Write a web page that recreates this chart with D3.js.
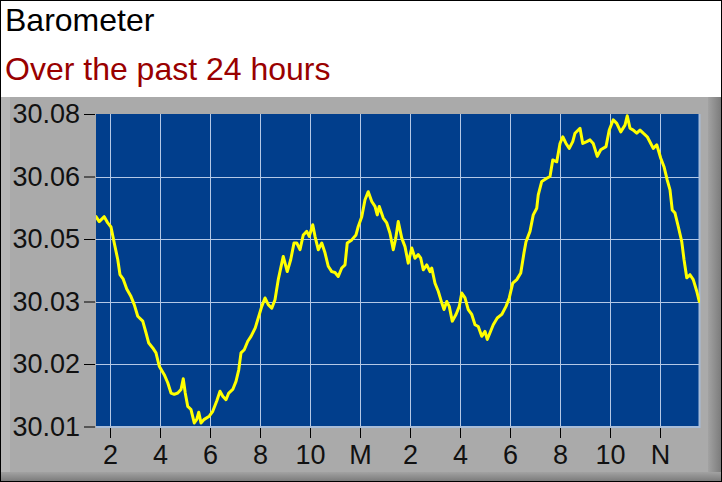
<!DOCTYPE html>
<html><head><meta charset="utf-8">
<script src="https://cdn.jsdelivr.net/npm/d3@7"></script>
<style>body{margin:0;background:#fff}svg{display:block}</style>
</head><body>
<svg id="c" width="722" height="482"></svg>
<script>
// ---- data (hours since midnight of the previous day; 24 = midnight) ----
const hours = [
13.44,13.57,13.77,13.91,14.04,14.17,14.31,14.40,14.53,14.67,14.84,14.97,15.11,15.31,15.44,15.55,15.71,15.84,15.97,16.17,16.31,16.44,16.57,16.71,16.84,16.93,17.01,17.11,17.24,17.37,17.47,17.55,17.64,17.77,17.97,18.11,18.27,18.40,18.51,18.64,18.75,18.91,19.04,19.15,19.24,19.37,19.51,19.64,19.81,
19.93,20.07,20.20,20.33,20.47,20.60,20.73,20.93,21.09,21.23,21.36,21.47,21.60,21.73,21.87,21.97,22.11,22.20,22.33,22.47,22.60,22.73,22.87,23.00,23.13,23.27,23.40,23.49,23.67,23.84,23.93,24.07,24.20,24.33,24.47,24.60,24.69,24.77,24.93,25.07,25.20,25.33,25.43,25.53,25.67,25.80,25.93,26.07,26.20,26.33,
26.43,26.53,26.67,26.80,26.87,27.00,27.13,27.27,27.36,27.47,27.57,27.69,27.84,27.97,28.07,28.20,28.33,28.47,28.60,28.73,28.87,29.00,29.09,29.20,29.33,29.49,29.67,29.84,29.97,30.11,30.27,30.43,30.56,30.64,30.80,30.93,31.07,
31.13,31.27,31.47,31.60,31.71,31.87,32.00,32.11,32.24,32.37,32.51,32.60,32.80,32.91,33.07,33.20,33.33,33.49,33.63,33.84,33.97,34.13,34.27,34.43,34.60,34.69,34.80,34.93,35.07,35.20,35.33,35.49,35.63,35.73,35.87,36.03,36.16,36.29,36.40,36.49,36.60,36.73,36.87,36.96,37.07,37.20,37.33,37.47,37.57
];
const pressure = [
30.0570,30.0559,30.0570,30.0556,30.0547,30.0511,30.0474,30.0440,30.0430,30.0408,30.0391,30.0373,30.0347,30.0336,30.0310,30.0287,30.0276,30.0265,30.0235,30.0216,30.0198,30.0175,30.0172,30.0175,30.0183,30.0207,30.0175,30.0145,30.0138,30.0108,30.0116,30.0132,30.0108,30.0116,30.0123,30.0134,30.0157,30.0179,30.0168,30.0160,30.0175,30.0183,30.0201,30.0227,30.0265,30.0272,30.0291,30.0302,30.0321,
30.0343,30.0369,30.0388,30.0373,30.0365,30.0384,30.0429,30.0481,30.0447,30.0474,30.0511,30.0511,30.0496,30.0529,30.0537,30.0526,30.0552,30.0526,30.0496,30.0511,30.0489,30.0459,30.0447,30.0445,30.0436,30.0455,30.0462,30.0511,30.0518,30.0529,30.0548,30.0570,30.0608,30.0626,30.0604,30.0593,30.0574,30.0593,30.0567,30.0556,30.0533,30.0496,30.0522,30.0559,30.0522,30.0503,30.0466,30.0500,30.0477,30.0485,
30.0477,30.0451,30.0462,30.0447,30.0455,30.0421,30.0403,30.0377,30.0362,30.0380,30.0369,30.0336,30.0351,30.0369,30.0399,30.0388,30.0362,30.0351,30.0328,30.0324,30.0302,30.0313,30.0295,30.0310,30.0328,30.0343,30.0351,30.0369,30.0388,30.0421,30.0429,30.0444,30.0489,30.0514,30.0537,30.0574,30.0589,
30.0619,30.0649,30.0656,30.0660,30.0697,30.0693,30.0734,30.0749,30.0734,30.0723,30.0738,30.0757,30.0768,30.0734,30.0738,30.0742,30.0734,30.0705,30.0720,30.0727,30.0764,30.0787,30.0779,30.0760,30.0775,30.0796,30.0768,30.0764,30.0757,30.0764,30.0757,30.0749,30.0734,30.0723,30.0731,30.0701,30.0682,30.0652,30.0630,30.0585,30.0578,30.0548,30.0514,30.0474,30.0433,30.0440,30.0429,30.0403,30.0380
];
const xTickHours  = [14,16,18,20,22,24,26,28,30,32,34,36];
const xTickLabels = ["2","4","6","8","10","M","2","4","6","8","10","N"];
const yTickValues = [30.01,30.024,30.038,30.052,30.066,30.08];
const yTickLabels = ["30.01","30.02","30.03","30.05","30.06","30.08"];
const xDomain = [13.44, 37.6];
const yDomain = [30.01, 30.08];
const titleText = "Barometer";
const subtitleText = "Over the past 24 hours";

// ---- drawing ----
const W = 722, H = 482;
const FONT = "'Liberation Sans', Arial, sans-serif";
const plot = {l: 96, r: 700, t: 114, b: 426.5};
const svg = d3.select("#c");
const defs = svg.append("defs");

const gr = defs.append("linearGradient").attr("id","gr").attr("x1","0").attr("x2","1").attr("y1","0").attr("y2","0");
gr.append("stop").attr("offset","0").attr("stop-color","#a2a2a2");
gr.append("stop").attr("offset","1").attr("stop-color","#7c7c7c");
const gb = defs.append("linearGradient").attr("id","gb").attr("x1","0").attr("x2","0").attr("y1","0").attr("y2","1");
gb.append("stop").attr("offset","0").attr("stop-color","#a2a2a2");
gb.append("stop").attr("offset","1").attr("stop-color","#7c7c7c");
defs.append("clipPath").attr("id","clip").append("rect")
  .attr("x", plot.l).attr("y", plot.t).attr("width", plot.r - plot.l).attr("height", plot.b - plot.t);

svg.append("rect").attr("width", W).attr("height", H).attr("fill", "#fff");
// grey panel with bevel
svg.append("rect").attr("x",1).attr("y",97).attr("width",720).attr("height",384).attr("fill","#aaaaaa");
svg.append("rect").attr("x",1).attr("y",97).attr("width",9).attr("height",384).attr("fill","#b6b6b6");
svg.append("rect").attr("x",708).attr("y",97).attr("width",13).attr("height",384).attr("fill","url(#gr)");
svg.append("rect").attr("x",1).attr("y",472).attr("width",720).attr("height",9).attr("fill","url(#gb)");
// outer border
svg.append("rect").attr("x",0.5).attr("y",0.5).attr("width",W-1).attr("height",H-1)
  .attr("fill","none").attr("stroke","#000");

// titles
svg.append("text").attr("x",5).attr("y",31).attr("font-family",FONT).attr("font-size",32)
  .attr("fill","#000").text(titleText);
svg.append("text").attr("x",5).attr("y",80).attr("font-family",FONT).attr("font-size",32)
  .attr("fill","#990000").text(subtitleText);

const x = d3.scaleLinear().domain(xDomain).range([plot.l, plot.r]);
const y = d3.scaleLinear().domain(yDomain).range([plot.b, plot.t]);

// plot background
svg.append("rect").attr("x",plot.l).attr("y",plot.t).attr("width",plot.r-plot.l).attr("height",plot.b-plot.t)
  .attr("fill","#013e8c");

// grid
const GRID = "#b4c8e6";
svg.append("g").selectAll("line").data(xTickHours).join("line")
  .attr("x1", d => Math.round(x(d)) + 0.5).attr("x2", d => Math.round(x(d)) + 0.5)
  .attr("y1", plot.t).attr("y2", plot.b)
  .attr("stroke", GRID).attr("stroke-width", 1);
svg.append("g").selectAll("line").data(yTickValues.slice(1, -1)).join("line")
  .attr("x1", plot.l).attr("x2", plot.r)
  .attr("y1", d => Math.round(y(d)) + 0.5).attr("y2", d => Math.round(y(d)) + 0.5)
  .attr("stroke", GRID).attr("stroke-width", 1);
// light right / bottom frame of the plot
svg.append("path")
  .attr("d", `M${plot.r - 0.5},${plot.t}V${plot.b + 0.5}H${plot.l}`)
  .attr("fill", "none").attr("stroke", "#a8bcd8").attr("stroke-width", 2);

// data line
const line = d3.line().x((d, i) => x(hours[i])).y(d => y(d));
svg.append("path").attr("d", line(pressure)).attr("clip-path","url(#clip)")
  .attr("fill","none").attr("stroke","#ffff00").attr("stroke-width",3)
  .attr("stroke-linejoin","round").attr("stroke-linecap","round");

// axes
const yAxis = d3.axisLeft(y).tickValues(yTickValues).tickFormat((d, i) => yTickLabels[i])
  .tickSize(11).tickPadding(4);
const gy = svg.append("g").attr("transform", `translate(${plot.l - 1},0)`).call(yAxis);
gy.select(".domain").remove();
gy.selectAll("text").attr("font-family", FONT).attr("font-size", 27).attr("fill", "#111");
gy.selectAll("line").attr("stroke", "#000");

const xAxis = d3.axisBottom(x).tickValues(xTickHours).tickFormat((d, i) => xTickLabels[i])
  .tickSize(10).tickPadding(7);
const gx = svg.append("g").attr("transform", `translate(0,${plot.b + 1.5})`).call(xAxis);
gx.select(".domain").remove();
gx.selectAll("text").attr("font-family", FONT).attr("font-size", 27).attr("fill", "#111");
gx.selectAll("line").attr("stroke", "#000");
</script>
</body></html>
